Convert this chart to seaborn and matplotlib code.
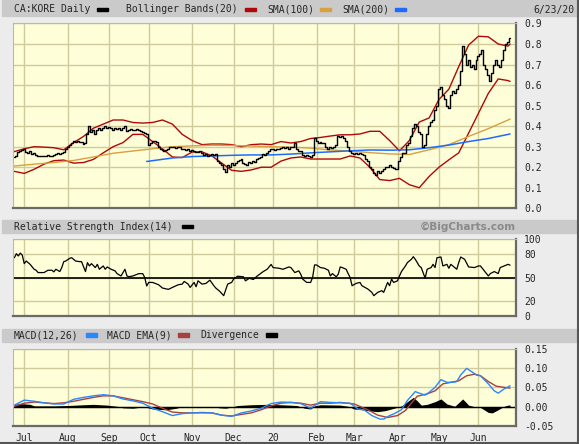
import numpy as np
import pandas as pd
import matplotlib
matplotlib.use('Agg')
import matplotlib.pyplot as plt
from matplotlib.patches import Rectangle
import seaborn as sns

# trading calendar (TSX-V), 6/24/19 .. 6/23/20
holidays = ['2019-07-01', '2019-08-05', '2019-09-02', '2019-10-14', '2019-12-25',
            '2019-12-26', '2020-01-01', '2020-02-17', '2020-04-10', '2020-05-18']
dates = pd.bdate_range('2019-06-24', '2020-06-23')
dates = dates[~dates.isin(pd.to_datetime(holidays))]

# daily closes
close = [
    0.25, 0.255, 0.275, 0.28, 0.285, 0.29, 0.275, 0.27, 0.28, 0.265,
    0.27, 0.26, 0.255, 0.255, 0.255, 0.255, 0.255, 0.26, 0.255, 0.255,
    0.26, 0.265, 0.27, 0.265, 0.27, 0.275, 0.29, 0.30, 0.31, 0.32,
    0.33, 0.325, 0.33, 0.325, 0.325, 0.315, 0.32, 0.36, 0.40, 0.37,
    0.38, 0.36, 0.38, 0.39, 0.38, 0.39, 0.40, 0.39, 0.395, 0.39,
    0.38, 0.39, 0.385, 0.39, 0.38, 0.39, 0.40, 0.375, 0.38, 0.385,
    0.38, 0.38, 0.385, 0.38, 0.375, 0.37, 0.365, 0.36, 0.31, 0.32,
    0.33, 0.33, 0.325, 0.30, 0.29, 0.285, 0.28, 0.285, 0.29, 0.30,
    0.30, 0.30, 0.295, 0.30, 0.30, 0.29, 0.29, 0.285, 0.29, 0.28,
    0.285, 0.28, 0.275, 0.275, 0.28, 0.27, 0.26, 0.265, 0.255, 0.26,
    0.265, 0.26, 0.265, 0.23, 0.22, 0.21, 0.19, 0.175, 0.21, 0.20,
    0.22, 0.21, 0.22, 0.23, 0.235, 0.24, 0.22, 0.215, 0.21, 0.225,
    0.22, 0.23, 0.225, 0.24, 0.245, 0.25, 0.265, 0.26, 0.27, 0.28,
    0.29, 0.29, 0.285, 0.29, 0.29, 0.295, 0.30, 0.295, 0.30, 0.29,
    0.30, 0.30, 0.32, 0.29, 0.28, 0.28, 0.26, 0.255, 0.26, 0.255,
    0.25, 0.26, 0.34, 0.33, 0.32, 0.325, 0.32, 0.32, 0.30, 0.29,
    0.30, 0.295, 0.30, 0.31, 0.35, 0.345, 0.35, 0.34, 0.33, 0.30,
    0.28, 0.27, 0.265, 0.27, 0.265, 0.27, 0.265, 0.26, 0.24, 0.23,
    0.20, 0.19, 0.17, 0.16, 0.18, 0.17, 0.18, 0.19, 0.20, 0.20,
    0.21, 0.20, 0.195, 0.19, 0.19, 0.23, 0.25, 0.27, 0.27, 0.31,
    0.32, 0.35, 0.39, 0.41, 0.40, 0.37, 0.36, 0.30, 0.31, 0.36,
    0.40, 0.42, 0.43, 0.48, 0.50, 0.58, 0.59, 0.55, 0.53, 0.50,
    0.49, 0.55, 0.57, 0.56, 0.58, 0.60, 0.67, 0.79, 0.75, 0.70,
    0.72, 0.69, 0.70, 0.68, 0.72, 0.74, 0.75, 0.77, 0.70, 0.68,
    0.65, 0.62, 0.66, 0.70, 0.72, 0.70, 0.69, 0.72, 0.77, 0.80,
    0.81, 0.83,
]

# bollinger bands, sampled every 5 trading days
bb_days = list(range(0, 251, 5)) + [251]
bb_upper = [0.276, 0.29, 0.30, 0.298, 0.295, 0.285, 0.32, 0.35, 0.39, 0.41,
            0.43, 0.43, 0.418, 0.415, 0.418, 0.43, 0.41, 0.36, 0.33, 0.31,
            0.313, 0.313, 0.31, 0.30, 0.31, 0.313, 0.31, 0.325, 0.318, 0.325,
            0.34, 0.345, 0.352, 0.358, 0.358, 0.362, 0.375, 0.375, 0.33, 0.28,
            0.33, 0.42, 0.44, 0.53, 0.58, 0.69, 0.795, 0.838, 0.835, 0.80,
            0.79, 0.80]
bb_lower = [0.18, 0.17, 0.19, 0.215, 0.232, 0.235, 0.22, 0.223, 0.238, 0.27,
            0.30, 0.32, 0.36, 0.36, 0.325, 0.29, 0.25, 0.247, 0.274, 0.275,
            0.255, 0.22, 0.185, 0.18, 0.187, 0.20, 0.20, 0.23, 0.245, 0.25,
            0.24, 0.24, 0.24, 0.24, 0.255, 0.245, 0.20, 0.14, 0.135, 0.146,
            0.115, 0.10, 0.155, 0.20, 0.236, 0.27, 0.366, 0.463, 0.56, 0.63,
            0.622, 0.618]

# moving averages, sampled every 10 trading days
sma100_days = list(range(0, 251, 10)) + [251]
sma100 = [0.206, 0.215, 0.223, 0.233, 0.25, 0.268, 0.279, 0.29, 0.30, 0.304,
          0.307, 0.306, 0.303, 0.30, 0.298, 0.293, 0.284, 0.279, 0.271, 0.265,
          0.262, 0.285, 0.31, 0.35, 0.388, 0.43, 0.435]
sma200_days = [67] + list(range(70, 251, 10)) + [251]
sma200 = [0.228, 0.232, 0.245, 0.252, 0.255, 0.258, 0.26, 0.26, 0.264, 0.27,
          0.275, 0.28, 0.284, 0.283, 0.285, 0.295, 0.308, 0.325, 0.34, 0.36,
          0.362]

# RSI(14)
rsi_days = [0, 1, 2, 3, 4, 5, 6, 8, 10, 11, 12, 14, 15, 17, 19, 20, 21, 23, 24, 25,
            26, 28, 29, 31, 33, 34, 36, 37, 38, 39, 41, 42, 43, 45, 46, 47, 49, 51, 52, 54,
            56, 57, 58, 60, 62, 63, 65, 66, 67, 68, 70, 73, 75, 78, 80, 83, 85, 86, 88, 89,
            91, 92, 93, 95, 97, 99, 101, 102, 104, 106, 107, 108, 110, 111, 113, 116, 117, 119, 121, 123,
            126, 128, 130, 131, 134, 136, 139, 140, 142, 144, 145, 146, 148, 150, 151, 152, 153, 155, 157, 159,
            160, 161, 163, 164, 165, 166, 168, 169, 170, 171, 173, 175, 176, 179, 181, 182, 184, 186, 187, 189,
            190, 191, 192, 194, 195, 196, 198, 199, 201, 202, 203, 205, 206, 208, 209, 211, 212, 213, 214, 216,
            217, 219, 220, 221, 224, 225, 226, 228, 230, 233, 235, 236, 238, 240, 241, 243, 245, 246, 248, 250,
            251]
rsi = [75.7, 80.9, 78, 81.7, 79, 68, 71.4, 67, 60.7, 59.4, 56.4, 56.4, 56.4, 59.4, 59.4, 57.3, 60.7, 57.7, 62.9, 70.6,
       71.4, 74.9, 75.7, 71.4, 70.6, 70.6, 57.7, 69.3, 65, 68, 62.9, 67.1, 60.7, 65, 60.7, 63.7, 60.7, 58.6, 55, 52,
       60.7, 52, 51, 52, 54, 55, 55, 50, 39, 43.6, 43.6, 40.6, 36.3, 34.6, 37.1, 40.6, 41.4, 44.9, 41.4, 37.1,
       43.6, 38, 45.7, 41.4, 42.3, 46.6, 39.3, 36.3, 32, 26.4, 33.7, 41.4, 43.6, 47.9, 51.7, 50.9, 45.7, 49, 47.4, 52,
       57.7, 60.7, 67, 62.9, 62, 60.7, 63.7, 62.9, 56.4, 58.6, 54.3, 47.9, 43.6, 43.6, 50, 66.3, 66.3, 62.9, 62, 59.4,
       52, 55.1, 50.9, 54.3, 63.7, 62.9, 60.7, 55.1, 50, 39.3, 42.3, 43.6, 39.3, 35, 30.7, 26.4, 30.7, 32.9, 30.7, 43.6,
       39.3, 47.9, 43.6, 45.7, 52, 57.7, 65, 69.3, 73.6, 77, 73.6, 65, 62.9, 49.1, 60.7, 62.9, 67.1, 62.9, 75.7, 76.6,
       65, 67.1, 62, 67.1, 60.7, 69.3, 76.6, 73.6, 63.7, 62.9, 65, 65, 58.6, 52, 55.1, 57.7, 55.1, 62.9, 65, 67.1,
       66]

# MACD(12,26)
macd_days = [0, 5, 10, 15, 20, 25, 30, 35, 40, 45, 50, 55, 60, 65, 70, 75, 80, 85, 90, 95,
             100, 105, 110, 115, 120, 125, 130, 135, 140, 145, 150, 155, 160, 165, 170, 174, 177, 181, 185, 187,
             190, 192, 196, 199, 203, 205, 208, 210, 213, 216, 219, 222, 224, 226, 229, 232, 234, 236, 240, 243,
             245, 248, 251]
macd = [0.004, 0.017, 0.014, 0.010, 0.007, 0.007, 0.019, 0.024, 0.028, 0.031,
        0.028, 0.020, 0.015, 0.009, -0.004, -0.013, -0.023, -0.018, -0.016, -0.016,
        -0.016, -0.022, -0.025, -0.016, -0.011, -0.004, 0.008, 0.012, 0.011, 0.008,
        -0.004, 0.013, 0.011, 0.010, 0.009, -0.006, -0.008, -0.023, -0.032, -0.032,
        -0.023, -0.019, -0.008, 0.016, 0.039, 0.035, 0.030, 0.037, 0.050, 0.070,
        0.063, 0.063, 0.065, 0.082, 0.099, 0.089, 0.082, 0.080, 0.059, 0.041,
        0.035, 0.046, 0.054]

# MACD EMA(9)
ema_days = [0, 5, 10, 15, 20, 25, 30, 35, 40, 45, 50, 55, 60, 65, 70, 75, 80, 85, 90, 95,
            100, 105, 110, 115, 120, 125, 130, 135, 140, 145, 150, 155, 160, 165, 172, 179, 184, 189, 194, 198,
            201, 204, 209, 213, 217, 221, 225, 229, 233, 236, 240, 244, 248, 251]
macd_ema = [0.001, 0.009, 0.012, 0.010, 0.008, 0.010, 0.014, 0.019, 0.024, 0.028,
            0.028, 0.023, 0.018, 0.013, 0.007, -0.004, -0.014, -0.016, -0.016, -0.015,
            -0.016, -0.022, -0.024, -0.020, -0.016, -0.008, 0.002, 0.009, 0.011, 0.009,
            0.004, 0.009, 0.009, 0.011, 0.007, -0.008, -0.022, -0.028, -0.023, -0.010,
            0.009, 0.027, 0.033, 0.041, 0.059, 0.063, 0.067, 0.080, 0.084, 0.080,
            0.065, 0.053, 0.050, 0.048]

# divergence histogram
div_days = [0, 3, 8, 10, 20, 27, 35, 40, 47, 52, 55, 60, 63, 67, 70, 77, 82, 85, 100, 104,
            107, 110, 113, 120, 128, 135, 143, 147, 150, 152, 155, 165, 169, 172, 176, 180, 184, 188, 193, 196,
            199, 202, 204, 206, 209, 213, 216, 219, 223, 227, 230, 233, 236, 240, 242, 245, 248, 250, 251]
div = [0.006, 0.008, 0.006, 0.002, 0.002, 0.003, 0.005, 0.006, 0.004, 0.001,
       -0.003, -0.004, -0.002, -0.002, -0.006, -0.008, -0.004, 0.0, 0.0, -0.003,
       -0.004, -0.001, 0.003, 0.005, 0.006, 0.005, 0.003, -0.004, -0.006, 0.002,
       0.005, 0.004, 0.001, -0.006, -0.008, -0.011, -0.013, -0.010, -0.003, 0.002,
       0.013, 0.024, 0.015, 0.004, 0.006, 0.013, 0.020, 0.007, 0.001, 0.020,
       0.004, 0.0, -0.002, -0.015, -0.016, -0.008, 0.001, 0.004, 0.004]

month_names = ['Jul', 'Aug', 'Sep', 'Oct', 'Nov', 'Dec', '20', 'Feb', 'Mar', 'Apr', 'May', 'Jun']

# colours
BG = '#ececec'
BAR = '#cacaca'
PANEL = '#fefed8'
GRID = '#cfcb9b'
RED = '#b00808'
ORANGE = '#d8a040'
BLUE = '#1e6cff'
MBLUE = '#2a86ff'
MRED = '#a84040'

sns.set_style('white')
plt.rcParams['font.family'] = ['DejaVu Sans Mono', 'DejaVu Sans']
plt.rcParams['font.size'] = 7

W, H = 579, 444
fig = plt.figure(figsize=(W / 100, H / 100), dpi=100, facecolor=BG)


def fx(x):
    return x / W


def fy(y):
    return 1 - y / H


def box(x0, y0, x1, y1):
    return [fx(x0), fy(y1), fx(x1) - fx(x0), fy(y0) - fy(y1)]


days = np.arange(len(close))
month_pos = pd.Series(days[:len(dates)], index=dates[:len(days)])
month_pos = month_pos.groupby([month_pos.index.year, month_pos.index.month]).first().values[1:]

ax_p = fig.add_axes(box(13, 23.5, 516, 208.3))
ax_r = fig.add_axes(box(13, 239, 516, 316))
ax_m = fig.add_axes(box(13, 348.7, 516, 426))

for ax in (ax_p, ax_r, ax_m):
    ax.set_facecolor(PANEL)
    ax.set_xticks(month_pos)
    ax.grid(True, color=GRID, lw=1.0)
    ax.set_axisbelow(True)
    ax.yaxis.tick_right()
    ax.tick_params(length=0, pad=6, labelsize=7)
    for s in ('left', 'top'):
        ax.spines[s].set_color('#b8b8b8')
        ax.spines[s].set_linewidth(0.8)
    for s in ('right', 'bottom'):
        ax.spines[s].set_color('#6a6a6a')
        ax.spines[s].set_linewidth(1.6)

# price panel
sns.lineplot(x=bb_days, y=bb_upper, color=RED, lw=1.0, ax=ax_p, errorbar=None)
sns.lineplot(x=bb_days, y=bb_lower, color=RED, lw=1.0, ax=ax_p, errorbar=None)
sns.lineplot(x=sma100_days, y=sma100, color=ORANGE, lw=1.0, ax=ax_p, errorbar=None)
sns.lineplot(x=sma200_days, y=sma200, color=BLUE, lw=1.1, ax=ax_p, errorbar=None)
ax_p.plot(days, close, drawstyle='steps-mid', color='black', lw=1.0)
ax_p.set_ylim(0, 0.9)
ax_p.set_yticks(np.arange(0, 0.91, 0.1))
ax_p.set_yticklabels([f'{v:.1f}' for v in np.arange(0, 0.91, 0.1)])
ax_p.set_xticklabels([])

# RSI panel
sns.lineplot(x=rsi_days, y=rsi, color='black', lw=0.9, ax=ax_r, errorbar=None)
ax_r.axhline(50, color='black', lw=1.2)
ax_r.set_ylim(0, 100)
ax_r.set_yticks([0, 20, 50, 80, 100])
ax_r.set_xticklabels([])

# MACD panel
ax_m.fill_between(div_days, div, 0, color='black', lw=0)
ax_m.axhline(0, color='black', lw=1.0)
sns.lineplot(x=ema_days, y=macd_ema, color=MRED, lw=1.0, ax=ax_m, errorbar=None)
sns.lineplot(x=macd_days, y=macd, color=MBLUE, lw=1.0, ax=ax_m, errorbar=None)
ax_m.set_ylim(-0.05, 0.15)
ax_m.set_yticks([-0.05, 0, 0.05, 0.10, 0.15])
ax_m.set_yticklabels(['-0.05', '0.00', '0.05', '0.10', '0.15'])
ax_m.set_xticklabels(month_names)
ax_m.tick_params(axis='x', pad=5)

for ax in (ax_p, ax_r, ax_m):
    ax.set_xlim(-0.7, 254)
    ax.set_xlabel('')
    ax.set_ylabel('')

# header bars
for y0, y1 in ((0.5, 16.5), (220, 233), (328.5, 342)):
    fig.add_artist(Rectangle((fx(2), fy(y1)), fx(577) - fx(2), fy(y0) - fy(y1),
                             transform=fig.transFigure, color=BAR, zorder=0))


def header(items, y):
    for x, txt in items:
        fig.text(fx(x), fy(y), txt, ha='left', va='center', fontsize=7)


def swatch(x, y, color):
    fig.add_artist(Rectangle((fx(x), fy(y + 1.7)), fx(11), 3.4 / H,
                             transform=fig.transFigure, color=color, zorder=3))


header([(14, 'CA:KORE Daily'), (126, 'Bollinger Bands(20)'),
        (267, 'SMA(100)'), (342, 'SMA(200)')], 9.5)
swatch(97, 9.5, 'black')
swatch(245, 9.5, RED)
swatch(320, 9.5, ORANGE)
swatch(395, 9.5, BLUE)
fig.text(fx(574), fy(9.5), '6/23/20', ha='right', va='center', fontsize=7)

header([(14, 'Relative Strength Index(14)')], 226.5)
swatch(182, 226.5, 'black')
fig.text(fx(516), fy(226.5), '\u00a9BigCharts.com', ha='right', va='center',
         fontsize=7.5, fontweight='bold', color='#8a8a8a', family='DejaVu Sans')

header([(14, 'MACD(12,26)'), (107, 'MACD EMA(9)'), (200, 'Divergence')], 335)
swatch(86, 335, MBLUE)
swatch(178, 335, MRED)
swatch(266, 335, 'black')

# outer frame
fig.add_artist(plt.Line2D([fx(578), fx(578)], [0, 1], transform=fig.transFigure, color='#555555', lw=1.5))
fig.add_artist(plt.Line2D([0, 1], [fy(443), fy(443)], transform=fig.transFigure, color='#555555', lw=1.5))

fig.savefig('out.png', dpi=100, facecolor=BG)
